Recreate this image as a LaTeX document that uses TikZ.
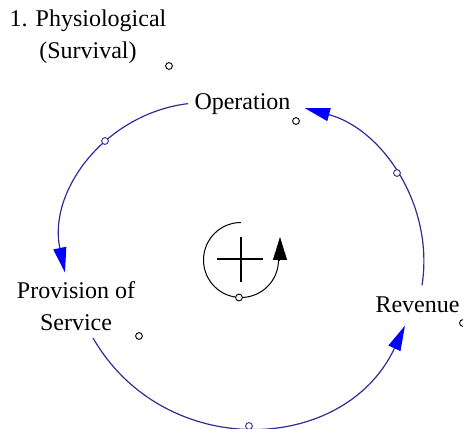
\documentclass[tikz,border=0pt]{standalone}
\usepackage{fontspec}
\setmainfont{Liberation Serif}
\usetikzlibrary{arrows.meta}
\definecolor{linkline}{RGB}{45,45,150}
\definecolor{linkhead}{RGB}{0,0,255}
\begin{document}
\begin{tikzpicture}[x=0.5pt,y=-0.5pt,
  var/.style={font=\fontsize{12}{16}\selectfont, inner sep=1.5pt, align=center, text=black},
  link/.style={draw=linkline, line width=0.6pt,
    -{Triangle[length=12.5pt,width=6.5pt,color=linkhead]}},
  handle/.style={circle, draw, fill=white, inner sep=0pt, minimum size=3.4pt, line width=0.45pt},
]
\useasboundingbox (0,0) rectangle (463,429);

% variables
\node[var] (title) at (88,37) {1. Physiological\\(Survival)};
\node[var, anchor=base] (opn) at (242.5,109) {Operation};
\node[var, anchor=base] (rev) at (417.5,313) {Revenue};
\node[var] (prov) at (76,306) {Provision of\\Service};

% causal links
\draw[link] ([shift={(-3,0)}]opn.west) to[out=187,in=102,looseness=1.02] ([shift={(-11,-5.5)}]prov.north);
\draw[link] ([shift={(4.5,-8.6)}]rev.north) to[out=81,in=-15,looseness=0.97] ([shift={(11,4.6)}]opn.east);
\draw[link] ([shift={(17,4)}]prov.south) to[out=300,in=245,looseness=1.17] ([shift={(-12.5,9)}]rev.south);

% link handles
\node[handle, draw=linkline] (h1) at (105,141) {};
\node[handle, draw=linkline] (h2) at (397,173) {};
\node[handle, draw=linkline] (h3) at (249,426) {};

% variable handles
\node[handle] (t1) at (169,66) {};
\node[handle] (t2) at (296,121) {};
\node[handle] (t3) at (139,336) {};
\node[handle] (t4) at (463,323) {};

% reinforcing loop symbol
\begin{scope}[shift={(241,260)}, x=0.5pt, y=0.5pt]
  \draw[line width=0.5pt] (0,37.5) arc[start angle=90, end angle=360, radius=37.5];
  \draw[line width=0.5pt, -{Triangle[length=11.5pt,width=7pt]}] (39,-1) -- (39,23);
  \draw[line width=1pt] (-24,1) -- (22,1) (0,23) -- (0,-22);
  \node[handle] (t5) at (-2,-37.5) {};
\end{scope}
\end{tikzpicture}
\end{document}
